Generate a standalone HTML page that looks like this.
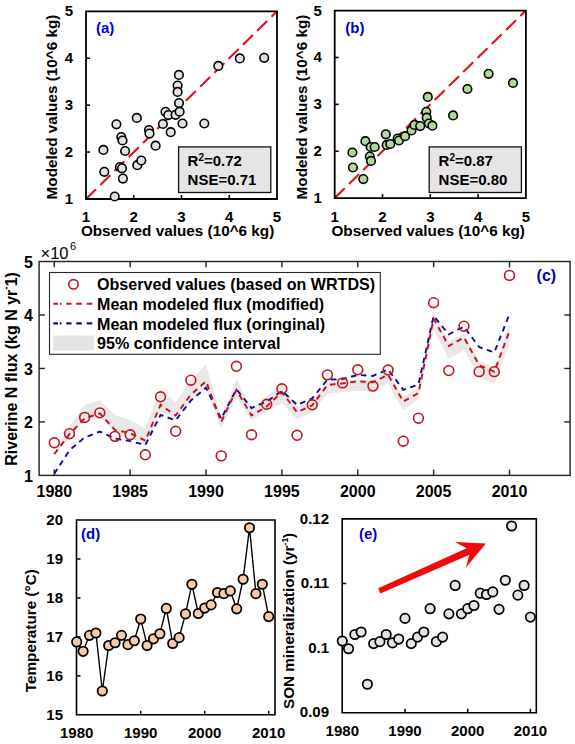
<!DOCTYPE html>
<html><head><meta charset="utf-8"><style>
html,body{margin:0;padding:0;background:#fff;width:575px;height:744px;overflow:hidden}
svg{display:block}
text{font-family:"Liberation Sans", sans-serif;fill:#000}
</style></head><body>
<svg width="575" height="744" viewBox="0 0 575 744">
<rect width="575" height="744" fill="#fff"/>
<line x1="86" y1="199" x2="277" y2="11.3" stroke="#e0101a" stroke-width="2.1" stroke-dasharray="14 6"/>
<rect x="178.6" y="146.9" width="92.2" height="45.6" fill="#e6e4e5" stroke="#111" stroke-width="1.3"/>
<text x="187.6" y="166.3" font-size="15" font-weight="bold">R<tspan font-size="10" dy="-5.5">2</tspan><tspan dy="5.5">=0.72</tspan></text>
<text x="187.6" y="184.5" font-size="15" font-weight="bold">NSE=0.71</text>
<path d="M86 11.3 V199 H277 V11.3 Z" fill="none" stroke="#000" stroke-width="1.8"/>
<line x1="86" y1="152.07" x2="90" y2="152.07" stroke="#000" stroke-width="1.6"/>
<line x1="133.75" y1="199" x2="133.75" y2="195" stroke="#000" stroke-width="1.6"/>
<line x1="86" y1="105.15" x2="90" y2="105.15" stroke="#000" stroke-width="1.6"/>
<line x1="181.5" y1="199" x2="181.5" y2="195" stroke="#000" stroke-width="1.6"/>
<line x1="86" y1="58.23" x2="90" y2="58.23" stroke="#000" stroke-width="1.6"/>
<line x1="229.25" y1="199" x2="229.25" y2="195" stroke="#000" stroke-width="1.6"/>
<circle cx="103.4" cy="149.9" r="4.3" fill="#e2e2e2" stroke="#000" stroke-width="1.6"/>
<circle cx="104.3" cy="171.8" r="4.3" fill="#e2e2e2" stroke="#000" stroke-width="1.6"/>
<circle cx="114.7" cy="196.5" r="4.3" fill="#e2e2e2" stroke="#000" stroke-width="1.6"/>
<circle cx="116.4" cy="124.3" r="4.3" fill="#e2e2e2" stroke="#000" stroke-width="1.6"/>
<circle cx="121.3" cy="137" r="4.3" fill="#e2e2e2" stroke="#000" stroke-width="1.6"/>
<circle cx="122.5" cy="140.5" r="4.3" fill="#e2e2e2" stroke="#000" stroke-width="1.6"/>
<circle cx="125.1" cy="151" r="4.3" fill="#e2e2e2" stroke="#000" stroke-width="1.6"/>
<circle cx="119.9" cy="167" r="4.3" fill="#e2e2e2" stroke="#000" stroke-width="1.6"/>
<circle cx="122" cy="168.3" r="4.3" fill="#e2e2e2" stroke="#000" stroke-width="1.6"/>
<circle cx="122.9" cy="178.6" r="4.3" fill="#e2e2e2" stroke="#000" stroke-width="1.6"/>
<circle cx="136.8" cy="117.9" r="4.3" fill="#e2e2e2" stroke="#000" stroke-width="1.6"/>
<circle cx="137.3" cy="165.2" r="4.3" fill="#e2e2e2" stroke="#000" stroke-width="1.6"/>
<circle cx="141.3" cy="160.5" r="4.3" fill="#e2e2e2" stroke="#000" stroke-width="1.6"/>
<circle cx="149" cy="130.1" r="4.3" fill="#e2e2e2" stroke="#000" stroke-width="1.6"/>
<circle cx="149.5" cy="133.6" r="4.3" fill="#e2e2e2" stroke="#000" stroke-width="1.6"/>
<circle cx="155.6" cy="145.7" r="4.3" fill="#e2e2e2" stroke="#000" stroke-width="1.6"/>
<circle cx="162.9" cy="124" r="4.3" fill="#e2e2e2" stroke="#000" stroke-width="1.6"/>
<circle cx="165.5" cy="111.8" r="4.3" fill="#e2e2e2" stroke="#000" stroke-width="1.6"/>
<circle cx="168.3" cy="115.1" r="4.3" fill="#e2e2e2" stroke="#000" stroke-width="1.6"/>
<circle cx="170.7" cy="132.2" r="4.3" fill="#e2e2e2" stroke="#000" stroke-width="1.6"/>
<circle cx="175.6" cy="114.8" r="4.3" fill="#e2e2e2" stroke="#000" stroke-width="1.6"/>
<circle cx="179.6" cy="111.7" r="4.3" fill="#e2e2e2" stroke="#000" stroke-width="1.6"/>
<circle cx="179" cy="103.1" r="4.3" fill="#e2e2e2" stroke="#000" stroke-width="1.6"/>
<circle cx="182.5" cy="123.5" r="4.3" fill="#e2e2e2" stroke="#000" stroke-width="1.6"/>
<circle cx="178.9" cy="74.9" r="4.3" fill="#e2e2e2" stroke="#000" stroke-width="1.6"/>
<circle cx="177.6" cy="85.6" r="4.3" fill="#e2e2e2" stroke="#000" stroke-width="1.6"/>
<circle cx="177.6" cy="91.9" r="4.3" fill="#e2e2e2" stroke="#000" stroke-width="1.6"/>
<circle cx="204.3" cy="123.5" r="4.3" fill="#e2e2e2" stroke="#000" stroke-width="1.6"/>
<circle cx="218.3" cy="65.9" r="4.3" fill="#e2e2e2" stroke="#000" stroke-width="1.6"/>
<circle cx="239.8" cy="58.4" r="4.3" fill="#e2e2e2" stroke="#000" stroke-width="1.6"/>
<circle cx="264.2" cy="57.8" r="4.3" fill="#e2e2e2" stroke="#000" stroke-width="1.6"/>
<text x="73.2" y="203.9" font-size="15" font-weight="bold" text-anchor="end">1</text>
<text x="86" y="222" font-size="15" font-weight="bold" text-anchor="middle">1</text>
<text x="73.2" y="156.97" font-size="15" font-weight="bold" text-anchor="end">2</text>
<text x="133.75" y="222" font-size="15" font-weight="bold" text-anchor="middle">2</text>
<text x="73.2" y="110.05" font-size="15" font-weight="bold" text-anchor="end">3</text>
<text x="181.5" y="222" font-size="15" font-weight="bold" text-anchor="middle">3</text>
<text x="73.2" y="63.13" font-size="15" font-weight="bold" text-anchor="end">4</text>
<text x="229.25" y="222" font-size="15" font-weight="bold" text-anchor="middle">4</text>
<text x="73.2" y="16.2" font-size="15" font-weight="bold" text-anchor="end">5</text>
<text x="277" y="222" font-size="15" font-weight="bold" text-anchor="middle">5</text>
<text x="177.6" y="236.2" font-size="15.3" font-weight="bold" text-anchor="middle">Observed values (10^6 kg)</text>
<text transform="translate(57 107) rotate(-90)" x="0" y="0" font-size="15.3" font-weight="bold" text-anchor="middle">Modeled values (10^6 kg)</text>
<text x="96" y="32.8" font-size="15" font-weight="bold" style="fill:#0000c8">(a)</text>
<line x1="334.7" y1="198.1" x2="525.9" y2="10.6" stroke="#e0101a" stroke-width="2.1" stroke-dasharray="14 6"/>
<rect x="429.2" y="146.9" width="92.2" height="45.6" fill="#e6e4e5" stroke="#111" stroke-width="1.3"/>
<text x="438.6" y="166.3" font-size="15" font-weight="bold">R<tspan font-size="10" dy="-5.5">2</tspan><tspan dy="5.5">=0.87</tspan></text>
<text x="438.6" y="184.5" font-size="15" font-weight="bold">NSE=0.80</text>
<path d="M334.7 10.6 V198.1 H525.9 V10.6 Z" fill="none" stroke="#000" stroke-width="1.8"/>
<line x1="334.7" y1="151.22" x2="338.7" y2="151.22" stroke="#000" stroke-width="1.6"/>
<line x1="382.5" y1="198.1" x2="382.5" y2="194.1" stroke="#000" stroke-width="1.6"/>
<line x1="334.7" y1="104.35" x2="338.7" y2="104.35" stroke="#000" stroke-width="1.6"/>
<line x1="430.3" y1="198.1" x2="430.3" y2="194.1" stroke="#000" stroke-width="1.6"/>
<line x1="334.7" y1="57.47" x2="338.7" y2="57.47" stroke="#000" stroke-width="1.6"/>
<line x1="478.1" y1="198.1" x2="478.1" y2="194.1" stroke="#000" stroke-width="1.6"/>
<circle cx="352.4" cy="152.5" r="4.3" fill="#afda96" stroke="#000" stroke-width="1.6"/>
<circle cx="352.9" cy="167.5" r="4.3" fill="#afda96" stroke="#000" stroke-width="1.6"/>
<circle cx="363.3" cy="179.1" r="4.3" fill="#afda96" stroke="#000" stroke-width="1.6"/>
<circle cx="365.4" cy="141.2" r="4.3" fill="#afda96" stroke="#000" stroke-width="1.6"/>
<circle cx="370.7" cy="147" r="4.3" fill="#afda96" stroke="#000" stroke-width="1.6"/>
<circle cx="374.7" cy="147" r="4.3" fill="#afda96" stroke="#000" stroke-width="1.6"/>
<circle cx="369.8" cy="156.5" r="4.3" fill="#afda96" stroke="#000" stroke-width="1.6"/>
<circle cx="371" cy="160.9" r="4.3" fill="#afda96" stroke="#000" stroke-width="1.6"/>
<circle cx="385.8" cy="134.3" r="4.3" fill="#afda96" stroke="#000" stroke-width="1.6"/>
<circle cx="386.7" cy="144.9" r="4.3" fill="#afda96" stroke="#000" stroke-width="1.6"/>
<circle cx="390.3" cy="144" r="4.3" fill="#afda96" stroke="#000" stroke-width="1.6"/>
<circle cx="397.6" cy="138.6" r="4.3" fill="#afda96" stroke="#000" stroke-width="1.6"/>
<circle cx="399" cy="140.5" r="4.3" fill="#afda96" stroke="#000" stroke-width="1.6"/>
<circle cx="405.1" cy="136.2" r="4.3" fill="#afda96" stroke="#000" stroke-width="1.6"/>
<circle cx="411.5" cy="130.4" r="4.3" fill="#afda96" stroke="#000" stroke-width="1.6"/>
<circle cx="414.5" cy="124.9" r="4.3" fill="#afda96" stroke="#000" stroke-width="1.6"/>
<circle cx="420.2" cy="126.1" r="4.3" fill="#afda96" stroke="#000" stroke-width="1.6"/>
<circle cx="426.3" cy="111.8" r="4.3" fill="#afda96" stroke="#000" stroke-width="1.6"/>
<circle cx="426.7" cy="117.7" r="4.3" fill="#afda96" stroke="#000" stroke-width="1.6"/>
<circle cx="428.9" cy="123.5" r="4.3" fill="#afda96" stroke="#000" stroke-width="1.6"/>
<circle cx="432.4" cy="125.7" r="4.3" fill="#afda96" stroke="#000" stroke-width="1.6"/>
<circle cx="427.8" cy="96.9" r="4.3" fill="#afda96" stroke="#000" stroke-width="1.6"/>
<circle cx="453.1" cy="115.4" r="4.3" fill="#afda96" stroke="#000" stroke-width="1.6"/>
<circle cx="467.4" cy="89" r="4.3" fill="#afda96" stroke="#000" stroke-width="1.6"/>
<circle cx="488.6" cy="73.8" r="4.3" fill="#afda96" stroke="#000" stroke-width="1.6"/>
<circle cx="513" cy="82.9" r="4.3" fill="#afda96" stroke="#000" stroke-width="1.6"/>
<text x="321.8" y="203" font-size="15" font-weight="bold" text-anchor="end">1</text>
<text x="334.7" y="222" font-size="15" font-weight="bold" text-anchor="middle">1</text>
<text x="321.8" y="156.12" font-size="15" font-weight="bold" text-anchor="end">2</text>
<text x="382.5" y="222" font-size="15" font-weight="bold" text-anchor="middle">2</text>
<text x="321.8" y="109.25" font-size="15" font-weight="bold" text-anchor="end">3</text>
<text x="430.3" y="222" font-size="15" font-weight="bold" text-anchor="middle">3</text>
<text x="321.8" y="62.37" font-size="15" font-weight="bold" text-anchor="end">4</text>
<text x="478.1" y="222" font-size="15" font-weight="bold" text-anchor="middle">4</text>
<text x="321.8" y="15.5" font-size="15" font-weight="bold" text-anchor="end">5</text>
<text x="525.9" y="222" font-size="15" font-weight="bold" text-anchor="middle">5</text>
<text x="428.2" y="236.2" font-size="15.3" font-weight="bold" text-anchor="middle">Observed values (10^6 kg)</text>
<text transform="translate(307 107) rotate(-90)" x="0" y="0" font-size="15.3" font-weight="bold" text-anchor="middle">Modeled values (10^6 kg)</text>
<text x="345.3" y="32.5" font-size="15" font-weight="bold" style="fill:#0000c8">(b)</text>
<polygon points="54.3,452.94 69.47,426.2 84.65,404.81 99.82,400.53 114.99,414.97 130.16,420.32 145.34,428.34 160.51,388.77 175.68,402.67 190.86,379.14 206.03,364.71 221.2,417.11 236.38,379.14 251.55,408.56 266.72,396.79 281.89,383.42 297.07,406.42 312.24,401.6 327.41,382.35 342.59,381.28 357.76,379.14 372.93,378.61 388.11,371.12 403.28,396.79 418.45,388.24 433.62,311.77 448.8,341.71 463.97,333.16 479.14,360.96 494.32,367.38 509.49,323.53 509.49,343.85 494.32,383.96 479.14,377.01 463.97,350.27 448.8,358.82 433.62,329.95 418.45,399.47 403.28,410.16 388.11,383.42 372.93,390.91 357.76,390.91 342.59,391.98 327.41,394.12 312.24,412.3 297.07,419.25 281.89,403.21 266.72,411.23 251.55,420.32 236.38,397.33 221.2,428.88 206.03,389.31 190.86,399.47 175.68,419.25 160.51,411.23 145.34,445.45 130.16,436.9 114.99,433.15 99.82,416.58 84.65,420.86 69.47,436.9 54.3,456.15" fill="#e8e8e8"/>
<polyline points="54.3,473.8 69.47,450.27 84.65,437.43 99.82,431.55 114.99,438.5 130.16,441.18 145.34,444.92 160.51,414.97 175.68,420.32 190.86,400.53 206.03,387.7 221.2,418.72 236.38,389.31 251.55,408.02 266.72,401.6 281.89,390.91 297.07,404.81 312.24,398.4 327.41,379.68 342.59,379.14 357.76,374.87 372.93,375.94 388.11,369.52 403.28,389.84 418.45,384.49 433.62,316.04 448.8,334.23 463.97,326.74 479.14,347.06 494.32,352.41 509.49,313.91" fill="none" stroke="#0c0c96" stroke-width="1.9" stroke-dasharray="5.6 4.6"/>
<polyline points="54.3,454.01 69.47,434.22 84.65,418.18 99.82,413.37 114.99,429.95 130.16,433.15 145.34,440.64 160.51,404.81 175.68,415.51 190.86,394.65 206.03,381.28 221.2,421.92 236.38,389.84 251.55,415.51 266.72,406.42 281.89,391.98 297.07,412.3 312.24,405.35 327.41,385.03 342.59,383.42 357.76,381.28 372.93,382.35 388.11,374.87 403.28,401.6 418.45,393.05 433.62,318.72 448.8,345.99 463.97,337.43 479.14,365.24 494.32,371.66 509.49,331.02" fill="none" stroke="#c8101a" stroke-width="1.9" stroke-dasharray="5.6 4.6"/>
<circle cx="54.3" cy="442.78" r="4.9" fill="none" stroke="#c0141e" stroke-width="1.6"/>
<circle cx="69.47" cy="433.69" r="4.9" fill="none" stroke="#c0141e" stroke-width="1.6"/>
<circle cx="84.65" cy="417.38" r="4.9" fill="none" stroke="#c0141e" stroke-width="1.6"/>
<circle cx="99.82" cy="412.83" r="4.9" fill="none" stroke="#c0141e" stroke-width="1.6"/>
<circle cx="114.99" cy="436.36" r="4.9" fill="none" stroke="#c0141e" stroke-width="1.6"/>
<circle cx="130.16" cy="434.76" r="4.9" fill="none" stroke="#c0141e" stroke-width="1.6"/>
<circle cx="145.34" cy="454.81" r="4.9" fill="none" stroke="#c0141e" stroke-width="1.6"/>
<circle cx="160.51" cy="396.79" r="4.9" fill="none" stroke="#c0141e" stroke-width="1.6"/>
<circle cx="175.68" cy="431.28" r="4.9" fill="none" stroke="#c0141e" stroke-width="1.6"/>
<circle cx="190.86" cy="380.21" r="4.9" fill="none" stroke="#c0141e" stroke-width="1.6"/>
<circle cx="221.2" cy="455.88" r="4.9" fill="none" stroke="#c0141e" stroke-width="1.6"/>
<circle cx="236.38" cy="366.31" r="4.9" fill="none" stroke="#c0141e" stroke-width="1.6"/>
<circle cx="251.55" cy="434.76" r="4.9" fill="none" stroke="#c0141e" stroke-width="1.6"/>
<circle cx="266.72" cy="404.28" r="4.9" fill="none" stroke="#c0141e" stroke-width="1.6"/>
<circle cx="281.89" cy="388.77" r="4.9" fill="none" stroke="#c0141e" stroke-width="1.6"/>
<circle cx="297.07" cy="435.29" r="4.9" fill="none" stroke="#c0141e" stroke-width="1.6"/>
<circle cx="312.24" cy="404.81" r="4.9" fill="none" stroke="#c0141e" stroke-width="1.6"/>
<circle cx="327.41" cy="374.87" r="4.9" fill="none" stroke="#c0141e" stroke-width="1.6"/>
<circle cx="342.59" cy="382.89" r="4.9" fill="none" stroke="#c0141e" stroke-width="1.6"/>
<circle cx="357.76" cy="369.79" r="4.9" fill="none" stroke="#c0141e" stroke-width="1.6"/>
<circle cx="372.93" cy="386.1" r="4.9" fill="none" stroke="#c0141e" stroke-width="1.6"/>
<circle cx="388.11" cy="370.05" r="4.9" fill="none" stroke="#c0141e" stroke-width="1.6"/>
<circle cx="403.28" cy="441.18" r="4.9" fill="none" stroke="#c0141e" stroke-width="1.6"/>
<circle cx="418.45" cy="418.18" r="4.9" fill="none" stroke="#c0141e" stroke-width="1.6"/>
<circle cx="433.62" cy="302.68" r="4.9" fill="none" stroke="#c0141e" stroke-width="1.6"/>
<circle cx="448.8" cy="370.59" r="4.9" fill="none" stroke="#c0141e" stroke-width="1.6"/>
<circle cx="463.97" cy="326.2" r="4.9" fill="none" stroke="#c0141e" stroke-width="1.6"/>
<circle cx="479.14" cy="371.66" r="4.9" fill="none" stroke="#c0141e" stroke-width="1.6"/>
<circle cx="494.32" cy="371.66" r="4.9" fill="none" stroke="#c0141e" stroke-width="1.6"/>
<circle cx="509.49" cy="275.4" r="4.9" fill="none" stroke="#c0141e" stroke-width="1.6"/>
<rect x="39.1" y="261.5" width="531" height="213.9" fill="none" stroke="#262626" stroke-width="1.45"/>
<line x1="54.3" y1="475.4" x2="54.3" y2="469.6" stroke="#222" stroke-width="1.4"/>
<line x1="54.3" y1="261.5" x2="54.3" y2="267.3" stroke="#222" stroke-width="1.4"/>
<text x="54.3" y="497.3" font-size="16" font-weight="bold" text-anchor="middle">1980</text>
<line x1="130.16" y1="475.4" x2="130.16" y2="469.6" stroke="#222" stroke-width="1.4"/>
<line x1="130.16" y1="261.5" x2="130.16" y2="267.3" stroke="#222" stroke-width="1.4"/>
<text x="130.16" y="497.3" font-size="16" font-weight="bold" text-anchor="middle">1985</text>
<line x1="206.03" y1="475.4" x2="206.03" y2="469.6" stroke="#222" stroke-width="1.4"/>
<line x1="206.03" y1="261.5" x2="206.03" y2="267.3" stroke="#222" stroke-width="1.4"/>
<text x="206.03" y="497.3" font-size="16" font-weight="bold" text-anchor="middle">1990</text>
<line x1="281.89" y1="475.4" x2="281.89" y2="469.6" stroke="#222" stroke-width="1.4"/>
<line x1="281.89" y1="261.5" x2="281.89" y2="267.3" stroke="#222" stroke-width="1.4"/>
<text x="281.89" y="497.3" font-size="16" font-weight="bold" text-anchor="middle">1995</text>
<line x1="357.76" y1="475.4" x2="357.76" y2="469.6" stroke="#222" stroke-width="1.4"/>
<line x1="357.76" y1="261.5" x2="357.76" y2="267.3" stroke="#222" stroke-width="1.4"/>
<text x="357.76" y="497.3" font-size="16" font-weight="bold" text-anchor="middle">2000</text>
<line x1="433.62" y1="475.4" x2="433.62" y2="469.6" stroke="#222" stroke-width="1.4"/>
<line x1="433.62" y1="261.5" x2="433.62" y2="267.3" stroke="#222" stroke-width="1.4"/>
<text x="433.62" y="497.3" font-size="16" font-weight="bold" text-anchor="middle">2005</text>
<line x1="509.49" y1="475.4" x2="509.49" y2="469.6" stroke="#222" stroke-width="1.4"/>
<line x1="509.49" y1="261.5" x2="509.49" y2="267.3" stroke="#222" stroke-width="1.4"/>
<text x="509.49" y="497.3" font-size="16" font-weight="bold" text-anchor="middle">2010</text>
<text x="32.8" y="481.6" font-size="16" font-weight="bold" text-anchor="end">1</text>
<line x1="39.1" y1="421.92" x2="44.9" y2="421.92" stroke="#222" stroke-width="1.4"/>
<line x1="570.1" y1="421.92" x2="564.3" y2="421.92" stroke="#222" stroke-width="1.4"/>
<text x="32.8" y="428.12" font-size="16" font-weight="bold" text-anchor="end">2</text>
<line x1="39.1" y1="368.45" x2="44.9" y2="368.45" stroke="#222" stroke-width="1.4"/>
<line x1="570.1" y1="368.45" x2="564.3" y2="368.45" stroke="#222" stroke-width="1.4"/>
<text x="32.8" y="374.65" font-size="16" font-weight="bold" text-anchor="end">3</text>
<line x1="39.1" y1="314.97" x2="44.9" y2="314.97" stroke="#222" stroke-width="1.4"/>
<line x1="570.1" y1="314.97" x2="564.3" y2="314.97" stroke="#222" stroke-width="1.4"/>
<text x="32.8" y="321.17" font-size="16" font-weight="bold" text-anchor="end">4</text>
<text x="32.8" y="267.7" font-size="16" font-weight="bold" text-anchor="end">5</text>
<text x="40.5" y="258.5" font-size="16.5">×10<tspan font-size="11" dx="1.5" dy="-8.5">6</tspan></text>
<rect x="49.5" y="272.5" width="330.8" height="81.8" fill="#fff" stroke="#262626" stroke-width="1.1"/>
<circle cx="73.5" cy="284.3" r="4.7" fill="none" stroke="#c0141e" stroke-width="1.6"/>
<path d="M53.3 303.8H58 M59.7 303.8H61.5 M66.3 303.8H71.5 M76.3 303.8H81.9 M86.7 303.8H92.3" stroke="#c8101a" stroke-width="2.1" fill="none"/>
<path d="M53.3 323.4H58 M59.7 323.4H61.5 M66.3 323.4H71.5 M76.3 323.4H81.9 M86.7 323.4H92.3" stroke="#0c0c96" stroke-width="2.1" fill="none"/>
<rect x="53" y="335.5" width="41" height="15" fill="#e4e4e4"/>
<text x="97" y="290.3" font-size="16.1" font-weight="bold">Observed values (based on WRTDS)</text>
<text x="97" y="309.9" font-size="16.1" font-weight="bold">Mean modeled flux (modified)</text>
<text x="97" y="329.5" font-size="16.1" font-weight="bold">Mean modeled flux (oringinal)</text>
<text x="97" y="349.1" font-size="16.1" font-weight="bold">95% confidence interval</text>
<text x="536.6" y="281.2" font-size="16" font-weight="bold" style="fill:#0000c8">(c)</text>
<text transform="translate(17.2 368.9) rotate(-90)" font-size="16" font-weight="bold" text-anchor="middle">Riverine N flux (kg N yr<tspan font-size="10" dy="-8.5">-</tspan><tspan dy="8.5">1)</tspan></text>
<path d="M76.5 520.0 V714.8 H275.0 V520.0 Z" fill="none" stroke="#000" stroke-width="1.6"/>
<polyline points="76.7,641.94 83.1,651.3 89.5,635.32 95.9,632.98 102.3,691.03 108.7,645.45 115.1,642.72 121.5,635.32 127.9,644.67 134.3,640.78 140.7,618.96 147.1,645.45 153.5,638.83 159.9,633.76 166.3,608.44 172.7,643.5 179.1,637.66 185.5,613.89 191.9,584.28 198.3,613.5 204.7,608.05 211.1,604.93 217.5,592.47 223.9,593.63 230.3,590.91 236.7,608.83 243.1,579.22 249.5,527.79 255.9,593.63 262.3,584.28 268.7,616.62" fill="none" stroke="#000" stroke-width="1.4"/>
<circle cx="76.7" cy="641.94" r="4.7" fill="#f5c9a9" stroke="#000" stroke-width="1.75"/>
<circle cx="83.1" cy="651.3" r="4.7" fill="#f5c9a9" stroke="#000" stroke-width="1.75"/>
<circle cx="89.5" cy="635.32" r="4.7" fill="#f5c9a9" stroke="#000" stroke-width="1.75"/>
<circle cx="95.9" cy="632.98" r="4.7" fill="#f5c9a9" stroke="#000" stroke-width="1.75"/>
<circle cx="102.3" cy="691.03" r="4.7" fill="#f5c9a9" stroke="#000" stroke-width="1.75"/>
<circle cx="108.7" cy="645.45" r="4.7" fill="#f5c9a9" stroke="#000" stroke-width="1.75"/>
<circle cx="115.1" cy="642.72" r="4.7" fill="#f5c9a9" stroke="#000" stroke-width="1.75"/>
<circle cx="121.5" cy="635.32" r="4.7" fill="#f5c9a9" stroke="#000" stroke-width="1.75"/>
<circle cx="127.9" cy="644.67" r="4.7" fill="#f5c9a9" stroke="#000" stroke-width="1.75"/>
<circle cx="134.3" cy="640.78" r="4.7" fill="#f5c9a9" stroke="#000" stroke-width="1.75"/>
<circle cx="140.7" cy="618.96" r="4.7" fill="#f5c9a9" stroke="#000" stroke-width="1.75"/>
<circle cx="147.1" cy="645.45" r="4.7" fill="#f5c9a9" stroke="#000" stroke-width="1.75"/>
<circle cx="153.5" cy="638.83" r="4.7" fill="#f5c9a9" stroke="#000" stroke-width="1.75"/>
<circle cx="159.9" cy="633.76" r="4.7" fill="#f5c9a9" stroke="#000" stroke-width="1.75"/>
<circle cx="166.3" cy="608.44" r="4.7" fill="#f5c9a9" stroke="#000" stroke-width="1.75"/>
<circle cx="172.7" cy="643.5" r="4.7" fill="#f5c9a9" stroke="#000" stroke-width="1.75"/>
<circle cx="179.1" cy="637.66" r="4.7" fill="#f5c9a9" stroke="#000" stroke-width="1.75"/>
<circle cx="185.5" cy="613.89" r="4.7" fill="#f5c9a9" stroke="#000" stroke-width="1.75"/>
<circle cx="191.9" cy="584.28" r="4.7" fill="#f5c9a9" stroke="#000" stroke-width="1.75"/>
<circle cx="198.3" cy="613.5" r="4.7" fill="#f5c9a9" stroke="#000" stroke-width="1.75"/>
<circle cx="204.7" cy="608.05" r="4.7" fill="#f5c9a9" stroke="#000" stroke-width="1.75"/>
<circle cx="211.1" cy="604.93" r="4.7" fill="#f5c9a9" stroke="#000" stroke-width="1.75"/>
<circle cx="217.5" cy="592.47" r="4.7" fill="#f5c9a9" stroke="#000" stroke-width="1.75"/>
<circle cx="223.9" cy="593.63" r="4.7" fill="#f5c9a9" stroke="#000" stroke-width="1.75"/>
<circle cx="230.3" cy="590.91" r="4.7" fill="#f5c9a9" stroke="#000" stroke-width="1.75"/>
<circle cx="236.7" cy="608.83" r="4.7" fill="#f5c9a9" stroke="#000" stroke-width="1.75"/>
<circle cx="243.1" cy="579.22" r="4.7" fill="#f5c9a9" stroke="#000" stroke-width="1.75"/>
<circle cx="249.5" cy="527.79" r="4.7" fill="#f5c9a9" stroke="#000" stroke-width="1.75"/>
<circle cx="255.9" cy="593.63" r="4.7" fill="#f5c9a9" stroke="#000" stroke-width="1.75"/>
<circle cx="262.3" cy="584.28" r="4.7" fill="#f5c9a9" stroke="#000" stroke-width="1.75"/>
<circle cx="268.7" cy="616.62" r="4.7" fill="#f5c9a9" stroke="#000" stroke-width="1.75"/>
<text x="63" y="719.7" font-size="15" font-weight="bold" text-anchor="end">15</text>
<line x1="76.5" y1="675.84" x2="80.5" y2="675.84" stroke="#000" stroke-width="1.5"/>
<text x="63" y="680.74" font-size="15" font-weight="bold" text-anchor="end">16</text>
<line x1="76.5" y1="636.88" x2="80.5" y2="636.88" stroke="#000" stroke-width="1.5"/>
<text x="63" y="641.78" font-size="15" font-weight="bold" text-anchor="end">17</text>
<line x1="76.5" y1="597.92" x2="80.5" y2="597.92" stroke="#000" stroke-width="1.5"/>
<text x="63" y="602.82" font-size="15" font-weight="bold" text-anchor="end">18</text>
<line x1="76.5" y1="558.96" x2="80.5" y2="558.96" stroke="#000" stroke-width="1.5"/>
<text x="63" y="563.86" font-size="15" font-weight="bold" text-anchor="end">19</text>
<text x="63" y="524.9" font-size="15" font-weight="bold" text-anchor="end">20</text>
<text x="76.7" y="738.2" font-size="15" font-weight="bold" text-anchor="middle">1980</text>
<line x1="140.7" y1="714.8" x2="140.7" y2="710.8" stroke="#000" stroke-width="1.5"/>
<text x="140.7" y="738.2" font-size="15" font-weight="bold" text-anchor="middle">1990</text>
<line x1="204.7" y1="714.8" x2="204.7" y2="710.8" stroke="#000" stroke-width="1.5"/>
<text x="204.7" y="738.2" font-size="15" font-weight="bold" text-anchor="middle">2000</text>
<line x1="268.7" y1="714.8" x2="268.7" y2="710.8" stroke="#000" stroke-width="1.5"/>
<text x="268.7" y="738.2" font-size="15" font-weight="bold" text-anchor="middle">2010</text>
<text x="81" y="539.2" font-size="15" font-weight="bold" style="fill:#0000c8">(d)</text>
<text transform="translate(35.6 630.7) rotate(-90)" font-size="15.3" font-weight="bold" text-anchor="middle">Temperature (°C)</text>
<polygon points="378.2,588.27 466.6,548.27 455,542.1 486,543.5 465.9,567.6 469.4,554.83 380.3,593.43" fill="#f00a0a"/>
<path d="M342.2 518.9 V712.7 H536.3 V518.9 Z" fill="none" stroke="#000" stroke-width="1.6"/>
<text x="329" y="717.4" font-size="15" font-weight="bold" text-anchor="end">0.09</text>
<line x1="342.2" y1="648.1" x2="346.2" y2="648.1" stroke="#000" stroke-width="1.5"/>
<text x="329" y="652.8" font-size="15" font-weight="bold" text-anchor="end">0.1</text>
<line x1="342.2" y1="583.5" x2="346.2" y2="583.5" stroke="#000" stroke-width="1.5"/>
<text x="329" y="588.2" font-size="15" font-weight="bold" text-anchor="end">0.11</text>
<text x="329" y="523.6" font-size="15" font-weight="bold" text-anchor="end">0.12</text>
<text x="342.3" y="735.6" font-size="15" font-weight="bold" text-anchor="middle">1980</text>
<line x1="405" y1="712.7" x2="405" y2="708.7" stroke="#000" stroke-width="1.5"/>
<text x="405" y="735.6" font-size="15" font-weight="bold" text-anchor="middle">1990</text>
<line x1="467.7" y1="712.7" x2="467.7" y2="708.7" stroke="#000" stroke-width="1.5"/>
<text x="467.7" y="735.6" font-size="15" font-weight="bold" text-anchor="middle">2000</text>
<line x1="530.4" y1="712.7" x2="530.4" y2="708.7" stroke="#000" stroke-width="1.5"/>
<text x="530.4" y="735.6" font-size="15" font-weight="bold" text-anchor="middle">2010</text>
<circle cx="342.3" cy="640.99" r="4.7" fill="#e4e4e4" stroke="#000" stroke-width="1.75"/>
<circle cx="348.57" cy="648.75" r="4.7" fill="#e4e4e4" stroke="#000" stroke-width="1.75"/>
<circle cx="354.84" cy="634.53" r="4.7" fill="#e4e4e4" stroke="#000" stroke-width="1.75"/>
<circle cx="361.11" cy="631.95" r="4.7" fill="#e4e4e4" stroke="#000" stroke-width="1.75"/>
<circle cx="367.38" cy="684.28" r="4.7" fill="#e4e4e4" stroke="#000" stroke-width="1.75"/>
<circle cx="373.65" cy="643.58" r="4.7" fill="#e4e4e4" stroke="#000" stroke-width="1.75"/>
<circle cx="379.92" cy="641.64" r="4.7" fill="#e4e4e4" stroke="#000" stroke-width="1.75"/>
<circle cx="386.19" cy="634.53" r="4.7" fill="#e4e4e4" stroke="#000" stroke-width="1.75"/>
<circle cx="392.46" cy="642.93" r="4.7" fill="#e4e4e4" stroke="#000" stroke-width="1.75"/>
<circle cx="398.73" cy="639.06" r="4.7" fill="#e4e4e4" stroke="#000" stroke-width="1.75"/>
<circle cx="405" cy="618.38" r="4.7" fill="#e4e4e4" stroke="#000" stroke-width="1.75"/>
<circle cx="411.27" cy="643.58" r="4.7" fill="#e4e4e4" stroke="#000" stroke-width="1.75"/>
<circle cx="417.54" cy="637.12" r="4.7" fill="#e4e4e4" stroke="#000" stroke-width="1.75"/>
<circle cx="423.81" cy="631.95" r="4.7" fill="#e4e4e4" stroke="#000" stroke-width="1.75"/>
<circle cx="430.08" cy="608.69" r="4.7" fill="#e4e4e4" stroke="#000" stroke-width="1.75"/>
<circle cx="436.35" cy="641.64" r="4.7" fill="#e4e4e4" stroke="#000" stroke-width="1.75"/>
<circle cx="442.62" cy="637.12" r="4.7" fill="#e4e4e4" stroke="#000" stroke-width="1.75"/>
<circle cx="448.89" cy="613.86" r="4.7" fill="#e4e4e4" stroke="#000" stroke-width="1.75"/>
<circle cx="455.16" cy="585.44" r="4.7" fill="#e4e4e4" stroke="#000" stroke-width="1.75"/>
<circle cx="461.43" cy="613.86" r="4.7" fill="#e4e4e4" stroke="#000" stroke-width="1.75"/>
<circle cx="467.7" cy="608.69" r="4.7" fill="#e4e4e4" stroke="#000" stroke-width="1.75"/>
<circle cx="473.97" cy="605.46" r="4.7" fill="#e4e4e4" stroke="#000" stroke-width="1.75"/>
<circle cx="480.24" cy="593.19" r="4.7" fill="#e4e4e4" stroke="#000" stroke-width="1.75"/>
<circle cx="486.51" cy="594.48" r="4.7" fill="#e4e4e4" stroke="#000" stroke-width="1.75"/>
<circle cx="492.78" cy="591.9" r="4.7" fill="#e4e4e4" stroke="#000" stroke-width="1.75"/>
<circle cx="499.05" cy="609.34" r="4.7" fill="#e4e4e4" stroke="#000" stroke-width="1.75"/>
<circle cx="505.32" cy="580.27" r="4.7" fill="#e4e4e4" stroke="#000" stroke-width="1.75"/>
<circle cx="511.59" cy="526.01" r="4.7" fill="#e4e4e4" stroke="#000" stroke-width="1.75"/>
<circle cx="517.86" cy="595.13" r="4.7" fill="#e4e4e4" stroke="#000" stroke-width="1.75"/>
<circle cx="524.13" cy="585.44" r="4.7" fill="#e4e4e4" stroke="#000" stroke-width="1.75"/>
<circle cx="530.4" cy="617.09" r="4.7" fill="#e4e4e4" stroke="#000" stroke-width="1.75"/>
<text x="359" y="539" font-size="15" font-weight="bold" style="fill:#0000c8">(e)</text>
<text transform="translate(294.3 620.9) rotate(-90)" font-size="15.25" font-weight="bold" text-anchor="middle">SON mineralization (yr<tspan font-size="8.5" dy="-6.5">-1</tspan><tspan dy="6.5">)</tspan></text>
</svg></body></html>
